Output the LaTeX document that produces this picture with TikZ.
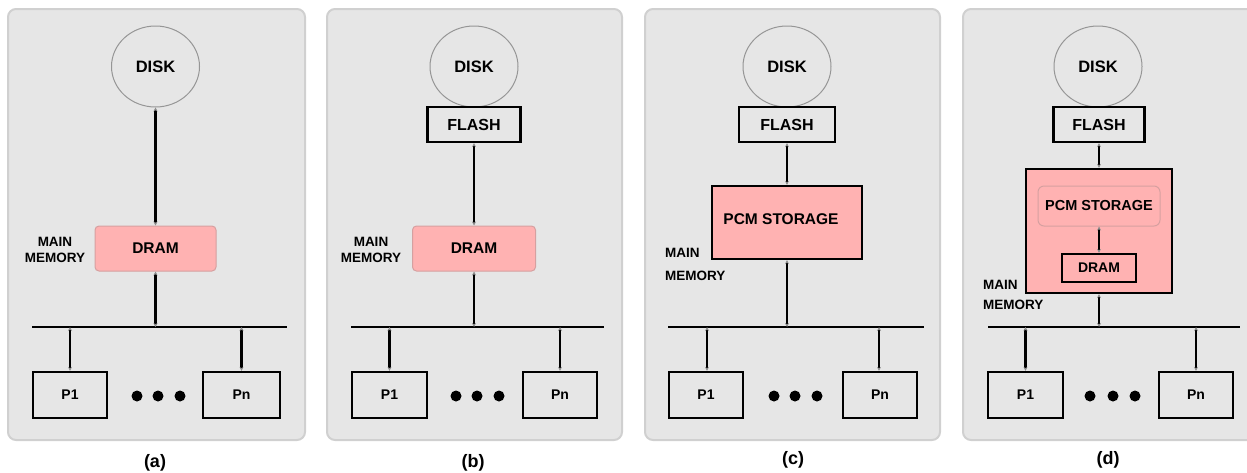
\documentclass[tikz,border=0pt]{standalone}
\usepackage{fontspec}
\setmainfont{Liberation Sans}
\usetikzlibrary{shapes.geometric,arrows.meta}
\definecolor{bgc}{RGB}{230,230,230}
\definecolor{framec}{RGB}{208,208,208}
\definecolor{pinkc}{RGB}{255,178,178}
\definecolor{pinkb}{RGB}{214,160,160}
\definecolor{diskc}{RGB}{150,150,150}
\definecolor{tipc}{RGB}{140,140,140}
\begin{document}
\begin{tikzpicture}[x=1pt,y=-1pt,
  panel/.style={fill=bgc,draw=framec,line width=2pt,rounded corners=8pt},
  disk/.style={ellipse,draw=diskc,line width=1pt,minimum width=88pt,minimum height=81pt,inner sep=0pt,font=\bfseries\fontsize{16.5}{18}\selectfont},
  blk/.style={draw=black,line width=2.2pt,inner sep=0pt,font=\bfseries\fontsize{16}{18}\selectfont},
  pblk/.style={blk,font=\bfseries\fontsize{14}{16}\selectfont},
  pinkbox/.style={fill=pinkc,draw=pinkb,line width=1pt,rounded corners=4pt,inner sep=0pt,font=\bfseries\fontsize{15.5}{18}\selectfont},
  bigpink/.style={fill=pinkc,draw=black,line width=2.2pt,inner sep=0pt},
  conn/.style={line width=2.2pt,{Stealth[length=4pt,width=4pt,tipc]}-{Stealth[length=4pt,width=4pt,tipc]}},
  bus/.style={line width=2.2pt},
  dotm/.style={circle,fill=black,inner sep=0pt,minimum size=11pt},
  memlbl/.style={font=\bfseries\fontsize{13.5}{16}\selectfont,inner sep=0pt},
  caplbl/.style={font=\bfseries\fontsize{18}{20}\selectfont,inner sep=0pt}
]
\useasboundingbox (0,0) rectangle (1247,472);
% ---------------- panel (a)
\draw[panel] (8,9) rectangle (305,440);
\node[disk] (diska) at (155.5,66.5) {DISK};
\node[pinkbox,minimum width=121pt,minimum height=45pt] (drama) at (155.5,248.5) {DRAM};
\node[memlbl,align=center] (mema) at (55,250) {MAIN\\MEMORY};
\coordinate (busaL) at (32,327);
\coordinate (busaR) at (287,327);
\draw[bus] (busaL) -- (busaR);
\coordinate (tapa) at (155.5,327);
\node[pblk,minimum width=74pt,minimum height=46pt] (p1a) at (70,395) {P1};
\node[pblk,minimum width=77pt,minimum height=46pt] (pna) at (241.5,395) {Pn};
\coordinate (tapa1) at (70,327);
\coordinate (tapan) at (241.5,327);
\draw[conn] (diska) -- (drama);
\draw[conn] (drama) -- (tapa);
\draw[conn] (tapa1) -- (p1a);
\draw[conn] (tapan) -- (pna);
\node[dotm] (da1) at (137,396) {};
\node[dotm] (da2) at (158,396) {};
\node[dotm] (da3) at (180,396) {};
\node[caplbl] (capa) at (155,463) {(a)};
% ---------------- panel (b)
\draw[panel] (327,9) rectangle (622,440);
\node[disk] (diskb) at (474,66.5) {DISK};
\node[blk,minimum width=93pt,minimum height=35pt] (flashb) at (474,124.5) {FLASH};
\node[pinkbox,minimum width=123pt,minimum height=45pt] (dramb) at (474,248.5) {DRAM};
\node[memlbl,align=center] (memb) at (371,250) {MAIN\\MEMORY};
\coordinate (busbL) at (351,327);
\coordinate (busbR) at (604,327);
\draw[bus] (busbL) -- (busbR);
\coordinate (tapb) at (474,327);
\node[pblk,minimum width=75pt,minimum height=46pt] (p1b) at (389.5,395) {P1};
\node[pblk,minimum width=74pt,minimum height=46pt] (pnb) at (560,395) {Pn};
\coordinate (tapb1) at (389.5,327);
\coordinate (tapbn) at (560,327);
\draw[conn] (flashb) -- (dramb);
\draw[conn] (dramb) -- (tapb);
\draw[conn] (tapb1) -- (p1b);
\draw[conn] (tapbn) -- (pnb);
\node[dotm] (db1) at (456,396) {};
\node[dotm] (db2) at (477,396) {};
\node[dotm] (db3) at (499,396) {};
\node[caplbl] (capb) at (473,463) {(b)};
% ---------------- panel (c)
\draw[panel] (645,9) rectangle (940,440);
\node[disk] (diskc) at (787,66.5) {DISK};
\node[blk,minimum width=96pt,minimum height=35pt] (flashc) at (787,124.5) {FLASH};
\node[bigpink,minimum width=150pt,minimum height=73pt] (pcmc) at (787,222.5) {};
\node[font=\bfseries\fontsize{15.5}{18}\selectfont,inner sep=0pt] (pcmct) at (781,219) {PCM STORAGE};
\node[memlbl,anchor=west] (memc1) at (665,253) {MAIN};
\node[memlbl,anchor=west] (memc2) at (665,276) {MEMORY};
\coordinate (buscL) at (668,327);
\coordinate (buscR) at (924,327);
\draw[bus] (buscL) -- (buscR);
\coordinate (tapc) at (787,327);
\node[pblk,minimum width=74pt,minimum height=46pt] (p1c) at (706,395) {P1};
\node[pblk,minimum width=74pt,minimum height=46pt] (pnc) at (880,395) {Pn};
\coordinate (tapc1) at (707,327);
\coordinate (tapcn) at (879,327);
\draw[conn] (flashc) -- (pcmc);
\draw[conn] (pcmc) -- (tapc);
\draw[conn] (tapc1) -- (tapc1 |- p1c.north);
\draw[conn] (tapcn) -- (tapcn |- pnc.north);
\node[dotm] (dc1) at (774,396) {};
\node[dotm] (dc2) at (795,396) {};
\node[dotm] (dc3) at (817,396) {};
\node[caplbl] (capc) at (793,460) {(c)};
% ---------------- panel (d)
\draw[panel] (963,9) rectangle (1262,440);
\node[disk] (diskd) at (1098,66.5) {DISK};
\node[blk,minimum width=91pt,minimum height=35pt] (flashd) at (1099,124.5) {FLASH};
\node[bigpink,minimum width=146pt,minimum height=124pt] (bigd) at (1099,231) {};
\node[pinkbox,minimum width=122pt,minimum height=40pt,rounded corners=6pt,font=\bfseries\fontsize{14.5}{16}\selectfont] (pcmd) at (1099,206) {PCM STORAGE};
\node[blk,minimum width=74pt,minimum height=28pt,font=\bfseries\fontsize{14}{16}\selectfont] (dramd) at (1099,268) {DRAM};
\node[memlbl,anchor=west] (memd1) at (983,285) {MAIN};
\node[memlbl,anchor=west] (memd2) at (983,305) {MEMORY};
\coordinate (busdL) at (988,327);
\coordinate (busdR) at (1240,327);
\draw[bus] (busdL) -- (busdR);
\coordinate (tapd) at (1099,327);
\node[pblk,minimum width=75pt,minimum height=46pt] (p1d) at (1025.5,395) {P1};
\node[pblk,minimum width=74pt,minimum height=46pt] (pnd) at (1196,395) {Pn};
\coordinate (tapd1) at (1025.5,327);
\coordinate (tapdn) at (1196,327);
\draw[conn] (flashd) -- (bigd);
\draw[conn] (pcmd) -- (dramd);
\draw[conn] (bigd) -- (tapd);
\draw[conn] (tapd1) -- (p1d);
\draw[conn] (tapdn) -- (pnd);
\node[dotm] (dd1) at (1090,396) {};
\node[dotm] (dd2) at (1113,396) {};
\node[dotm] (dd3) at (1135,396) {};
\node[caplbl] (capd) at (1108,460) {(d)};
\end{tikzpicture}
\end{document}
